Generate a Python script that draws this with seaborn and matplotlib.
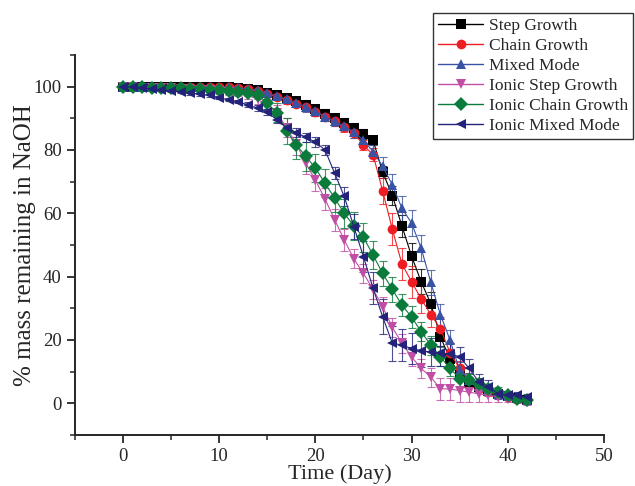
import numpy as np
import pandas as pd
import matplotlib
matplotlib.use("Agg")
import matplotlib.pyplot as plt
from matplotlib.ticker import MultipleLocator
import seaborn as sns

# data (day 0..42)
days = list(range(43))

names = ['Step Growth', 'Chain Growth', 'Mixed Mode',
         'Ionic Step Growth', 'Ionic Chain Growth', 'Ionic Mixed Mode']

step_growth = [100, 100, 100, 100, 100, 100, 100, 100, 100, 100,
               99.9, 99.8, 99.6, 99.3, 98.8, 98.0, 97.2, 96.3, 95.3, 94.2,
               92.8, 91.5, 90.0, 88.5, 87.0, 85.0, 83.0, 73.0, 65.6, 56.0,
               46.5, 38.4, 31.5, 21.0, 14.0, 9.0, 6.5, 5.0, 3.8, 3.0,
               2.2, 1.6, 1.0]
chain_growth = [100, 100, 100, 100, 100, 100, 100, 100, 100, 100,
                99.9, 99.8, 99.6, 99.2, 98.6, 97.8, 96.8, 95.8, 94.6, 93.4,
                92.0, 90.5, 89.0, 87.3, 85.4, 81.5, 78.5, 67.0, 55.0, 44.0,
                38.4, 33.0, 28.0, 23.6, 16.0, 11.0, 7.5, 5.2, 3.8, 2.8,
                2.0, 1.4, 1.0]
mixed_mode = [100, 100, 100, 100, 100, 100, 100, 100, 100, 100,
              99.9, 99.8, 99.6, 99.3, 98.8, 98.0, 97.0, 96.0, 94.8, 93.6,
              92.2, 90.5, 89.0, 87.4, 85.8, 83.0, 79.5, 74.8, 69.0, 61.6,
              56.9, 49.0, 38.2, 28.0, 20.0, 10.4, 7.5, 5.5, 4.0, 3.0,
              2.2, 1.6, 1.0]
ionic_step = [100, 99.8, 99.7, 99.6, 99.5, 99.4, 99.3, 99.2, 99.0, 98.8,
              98.5, 98.2, 97.8, 97.2, 96.0, 94.2, 91.8, 87.0, 82.0, 75.8,
              70.5, 64.5, 58.0, 51.6, 45.6, 41.0, 36.0, 30.5, 24.0, 19.0,
              14.7, 11.0, 8.3, 4.6, 4.5, 4.0, 3.5, 3.0, 2.5, 2.0,
              1.5, 1.0, 0.5]
ionic_chain = [100, 99.9, 99.8, 99.7, 99.6, 99.5, 99.4, 99.3, 99.2, 99.0,
               98.8, 98.6, 98.3, 98.0, 97.5, 94.8, 91.7, 86.0, 81.6, 78.0,
               74.3, 69.5, 64.8, 60.0, 56.0, 52.4, 46.8, 41.0, 36.0, 31.0,
               27.3, 22.6, 18.4, 14.7, 11.0, 7.8, 7.3, 6.0, 4.5, 3.5,
               2.5, 1.5, 1.0]
ionic_mixed = [100, 99.8, 99.5, 99.3, 99.0, 98.7, 98.4, 98.0, 97.6, 97.2,
               96.5, 95.8, 95.2, 94.2, 93.2, 92.0, 89.5, 87.0, 85.5, 84.0,
               82.5, 80.0, 72.7, 65.3, 55.8, 46.3, 36.3, 27.3, 19.0, 18.4,
               17.3, 16.6, 16.2, 15.9, 15.5, 14.7, 11.0, 6.7, 5.2, 3.0,
               2.5, 2.5, 2.0]

step_err = [0.5] * 13 + [0.8, 1, 1, 1.2, 1.2, 1.5, 1.5,
                         1.5, 1.5, 1.5, 1.5, 1.5, 1.5, 1.5, 2,
                         3, 3.5, 4, 4, 3.5, 3,
                         2.5, 2, 1.5, 1.5, 1, 1, 1, 1, 1]
chain_err = [0.5] * 13 + [0.8, 1, 1, 1, 1.2, 1.2, 1.2,
                          1.2, 1.5, 1.5, 1.5, 1.5, 1.5, 2, 4,
                          5, 5, 5, 4.5, 4, 3.5,
                          3, 2.5, 2, 1.5, 1.5, 1, 1, 1, 1]
mixed_err = [0.5] * 13 + [0.8, 1, 1, 1, 1.2, 1.2, 1.5,
                          1.5, 1.5, 1.5, 1.5, 2, 2, 2, 3,
                          3.5, 4, 4, 4, 4, 3.5,
                          3, 2.5, 2, 1.5, 1.5, 1, 1, 1, 1]
ionic_step_err = [0.8] * 13 + [1, 1.5, 2, 2.5, 3, 3.5, 3.5,
                               3.5, 3.5, 3.5, 3.5, 3, 3, 3, 3,
                               3, 3, 3, 3, 3, 3.5,
                               3.5, 3.5, 3, 2.5, 2, 1.5, 1, 1, 1]
ionic_chain_err = [0.8] * 13 + [1, 1.5, 2, 3, 4, 4.5, 4.5,
                                4.5, 4.5, 4.5, 4.5, 4.5, 4.5, 4.5, 4,
                                4, 3.5, 3.5, 3, 3, 3,
                                2.5, 2.5, 2, 2, 1.5, 1.5, 1, 1, 1]
ionic_mixed_err = [0.5] * 13 + [0.8, 1, 1, 1, 1.2, 1.5, 1.5,
                                1.5, 1.5, 2, 3, 4, 5, 5, 5.5,
                                5.5, 5, 5, 5, 4.5, 4,
                                3.5, 3, 3, 2.5, 2, 1.5, 1, 1, 1]

values = [step_growth, chain_growth, mixed_mode, ionic_step, ionic_chain, ionic_mixed]
errors = [step_err, chain_err, mixed_err, ionic_step_err, ionic_chain_err, ionic_mixed_err]

colors = ['#000000', '#ee1d23', '#3953a4', '#c04ea4', '#0b7b3c', '#23237a']
markers = ['s', 'o', '^', 'v', 'D', '<']
palette = dict(zip(names, colors))
marker_map = dict(zip(names, markers))

df = pd.concat([pd.DataFrame({'day': days, 'mass': v, 'series': n})
                for n, v in zip(names, values)], ignore_index=True)

sns.set_style("ticks")
plt.rcParams['font.family'] = ['Liberation Serif', 'DejaVu Serif']

fig = plt.figure(figsize=(6.35, 4.86), dpi=100)
ax = fig.add_axes([0.118, 0.105, 0.833, 0.782])

for n, v, e, c in zip(names, values, errors, colors):
    ax.errorbar(days, v, yerr=e, fmt='none', ecolor=c, elinewidth=0.8,
                capsize=3, capthick=0.8, alpha=0.8)

sns.lineplot(data=df, x='day', y='mass', hue='series', style='series',
             palette=palette, markers=marker_map, dashes=False,
             markersize=7, linewidth=0.8, markeredgewidth=0,
             errorbar=None, sort=False, ax=ax)

ax.set_xlim(-5, 50)
ax.set_ylim(-10, 110)
ax.xaxis.set_major_locator(MultipleLocator(10))
ax.xaxis.set_minor_locator(MultipleLocator(5))
ax.set_yticks([0, 20, 40, 60, 80, 100])
ax.yaxis.set_minor_locator(MultipleLocator(10))
ax.tick_params(which='major', direction='out', length=6, width=1.3, labelsize=13.5)
ax.tick_params(which='minor', direction='out', length=3.5, width=1.1)
sns.despine(ax=ax)
for s in ['left', 'bottom']:
    ax.spines[s].set_linewidth(1.4)

ax.set_xlabel('Time (Day)', fontsize=16, labelpad=-1)
ax.set_ylabel('% mass remaining in NaOH', fontsize=18, labelpad=-2)

handles, labels = ax.get_legend_handles_labels()
ax.get_legend().remove()
for h in handles:
    h.set_markersize(7)
    h.set_linewidth(1.0)
leg = fig.legend(handles, labels, loc='upper right', bbox_to_anchor=(0.997, 0.974),
                 frameon=True, fancybox=False, edgecolor='black', fontsize=12.5,
                 handlelength=2.6, labelspacing=0.22, borderpad=0.3,
                 handletextpad=0.3, borderaxespad=0)
leg.get_frame().set_linewidth(1.0)

fig.savefig('out.png', dpi=100)
